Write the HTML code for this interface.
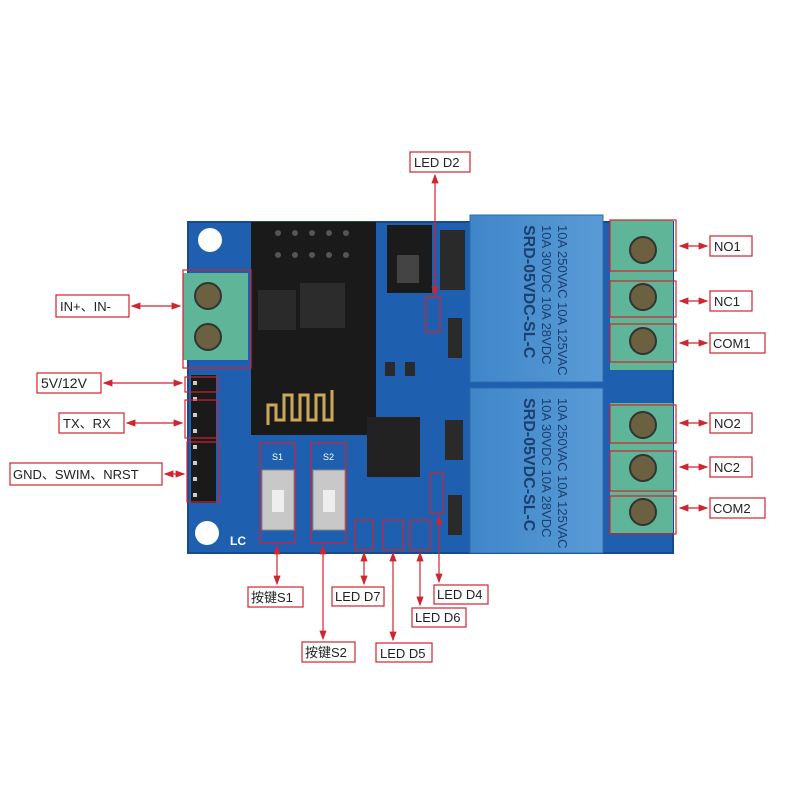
<!DOCTYPE html>
<html><head><meta charset="utf-8"><style>
html,body{margin:0;padding:0;background:#fff;width:800px;height:800px;overflow:hidden}
text{font-family:"Liberation Sans","Noto Sans CJK SC",sans-serif;font-size:13px;fill:#222}
</style></head><body>
<svg width="800" height="800" viewBox="0 0 800 800" xmlns="http://www.w3.org/2000/svg">
<defs>
<marker id="a" markerWidth="8" markerHeight="8" refX="7" refY="4" orient="auto-start-reverse"><path d="M0,1 L8,4 L0,7 z" fill="#d0242e"/></marker>
<linearGradient id="rel" x1="0" x2="1"><stop offset="0" stop-color="#3f86c9"/><stop offset="1" stop-color="#5a9bd6"/></linearGradient>
</defs>
<!-- board -->
<rect x="188" y="222" width="485" height="331" fill="#1e5fb0"/>
<rect x="188" y="222" width="485" height="331" fill="none" stroke="#164a8c" stroke-width="2"/>
<circle cx="210" cy="240" r="12" fill="#fff"/>
<circle cx="207" cy="533" r="12" fill="#fff"/>
<text x="230" y="545" style="fill:#fff;font-weight:bold;font-size:12px">LC</text>
<!-- small smd parts -->
<g fill="#2a2a2a"><rect x="385" y="362" width="10" height="14"/><rect x="405" y="362" width="10" height="14"/><rect x="448" y="318" width="14" height="40"/><rect x="448" y="495" width="14" height="40"/><rect x="445" y="420" width="18" height="40"/><rect x="440" y="230" width="25" height="60"/></g>
<!-- ESP module -->
<rect x="251" y="222" width="125" height="213" fill="#1a1a1a"/>
<rect x="300" y="283" width="45" height="45" fill="#2c2c2c"/>
<rect x="258" y="290" width="38" height="40" fill="#2a2a2a"/>
<path d="M268,425 v-20 h8 v15 h8 v-25 h8 v25 h8 v-25 h8 v25 h8 v-25 h8 v25 h8 v-30" fill="none" stroke="#c9a85a" stroke-width="3"/>
<g fill="#555"><circle cx="278" cy="233" r="3"/><circle cx="295" cy="233" r="3"/><circle cx="312" cy="233" r="3"/><circle cx="329" cy="233" r="3"/><circle cx="346" cy="233" r="3"/><circle cx="278" cy="255" r="3"/><circle cx="295" cy="255" r="3"/><circle cx="312" cy="255" r="3"/><circle cx="329" cy="255" r="3"/><circle cx="346" cy="255" r="3"/></g>
<!-- jumper -->
<rect x="387" y="225" width="45" height="68" fill="#1b1b1b"/>
<rect x="397" y="255" width="22" height="28" fill="#444"/>
<!-- IC -->
<rect x="367" y="417" width="53" height="60" fill="#222"/>
<!-- relays -->
<rect x="470" y="215" width="133" height="167" fill="url(#rel)" stroke="#2d6aa8"/>
<rect x="470" y="388" width="133" height="165" fill="url(#rel)" stroke="#2d6aa8"/>
<g transform="translate(558,225) rotate(90)"><text x="0" y="0" style="font-size:13px;fill:#1b3f6e">10A 250VAC 10A 125VAC</text><text x="0" y="16" style="font-size:13px;fill:#1b3f6e">10A 30VDC 10A 28VDC</text><text x="0" y="34" style="font-size:16px;fill:#1b3f6e;font-weight:bold">SRD-05VDC-SL-C</text></g>
<g transform="translate(558,398) rotate(90)"><text x="0" y="0" style="font-size:13px;fill:#1b3f6e">10A 250VAC 10A 125VAC</text><text x="0" y="16" style="font-size:13px;fill:#1b3f6e">10A 30VDC 10A 28VDC</text><text x="0" y="34" style="font-size:16px;fill:#1b3f6e;font-weight:bold">SRD-05VDC-SL-C</text></g>
<!-- terminals -->
<rect x="610" y="220" width="63" height="150" fill="#5fb598"/>
<rect x="610" y="403" width="63" height="130" fill="#5fb598"/>
<rect x="183" y="273" width="65" height="87" fill="#5fb598"/>
<g fill="#6b6040" stroke="#333" stroke-width="2">
<circle cx="643" cy="250" r="13"/><circle cx="643" cy="297" r="13"/><circle cx="643" cy="341" r="13"/>
<circle cx="643" cy="425" r="13"/><circle cx="643" cy="468" r="13"/><circle cx="643" cy="512" r="13"/>
<circle cx="208" cy="296" r="13"/><circle cx="208" cy="337" r="13"/></g>
<!-- headers -->
<rect x="191" y="375" width="25" height="128" fill="#1a1a1a"/>
<g fill="#ccc"><rect x="193" y="381" width="4" height="4"/><rect x="193" y="397" width="4" height="4"/><rect x="193" y="413" width="4" height="4"/><rect x="193" y="429" width="4" height="4"/><rect x="193" y="445" width="4" height="4"/><rect x="193" y="461" width="4" height="4"/><rect x="193" y="477" width="4" height="4"/><rect x="193" y="493" width="4" height="4"/></g>
<!-- buttons -->
<rect x="262" y="470" width="32" height="60" fill="#c8c8c8" stroke="#888"/>
<rect x="313" y="470" width="32" height="60" fill="#c8c8c8" stroke="#888"/>
<rect x="272" y="490" width="12" height="22" fill="#eee"/>
<rect x="323" y="490" width="12" height="22" fill="#eee"/>
<text x="272" y="460" style="fill:#fff;font-size:9px">S1</text><text x="323" y="460" style="fill:#fff;font-size:9px">S2</text>
<!-- red highlight boxes -->
<g fill="none" stroke="#d0242e" stroke-width="1.2">
<rect x="610" y="220" width="66" height="51"/><rect x="610" y="281" width="66" height="36"/><rect x="610" y="324" width="66" height="38"/>
<rect x="610" y="405" width="66" height="38"/><rect x="610" y="451" width="66" height="40"/><rect x="610" y="496" width="66" height="38"/>
<rect x="183" y="270" width="68" height="98"/>
<rect x="185" y="377" width="33" height="15"/><rect x="185" y="400" width="33" height="38"/><rect x="187" y="442" width="32" height="60"/>
<rect x="260" y="443" width="35" height="100"/><rect x="311" y="443" width="35" height="100"/>
<rect x="426" y="297" width="14" height="35"/>
<rect x="355" y="520" width="18" height="30"/><rect x="383" y="520" width="20" height="30"/><rect x="410" y="520" width="20" height="30"/><rect x="430" y="473" width="13" height="40"/>
</g>
<!-- labels -->
<g fill="#fff" stroke="#d0242e" stroke-width="1.2">
<rect x="410" y="152" width="60" height="20"/>
<rect x="710" y="236" width="42" height="20"/><rect x="710" y="291" width="42" height="20"/><rect x="710" y="333" width="55" height="20"/>
<rect x="710" y="413" width="42" height="20"/><rect x="710" y="457" width="42" height="20"/><rect x="710" y="498" width="55" height="20"/>
<rect x="56" y="295" width="73" height="22"/><rect x="37" y="373" width="64" height="20"/><rect x="59" y="413" width="65" height="20"/><rect x="10" y="463" width="152" height="22"/>
<rect x="248" y="587" width="55" height="20"/><rect x="332" y="587" width="52" height="19"/><rect x="434" y="585" width="54" height="19"/><rect x="412" y="608" width="54" height="19"/><rect x="302" y="642" width="53" height="20"/><rect x="376" y="643" width="56" height="19"/>
</g>
<text x="414" y="167">LED D2</text>
<text x="714" y="251">NO1</text><text x="714" y="306">NC1</text><text x="713" y="348">COM1</text>
<text x="714" y="428">NO2</text><text x="714" y="472">NC2</text><text x="713" y="513">COM2</text>
<text x="60" y="311">IN+、IN-</text><text x="41" y="388" style="font-size:14px">5V/12V</text><text x="63" y="428">TX、RX</text><text x="13" y="479">GND、SWIM、NRST</text>
<text x="251" y="602">按键S1</text><text x="335" y="601">LED D7</text><text x="437" y="599">LED D4</text><text x="415" y="622">LED D6</text><text x="305" y="657">按键S2</text><text x="380" y="658">LED D5</text>
<!-- arrows -->
<g stroke="#d0242e" stroke-width="1.2" marker-start="url(#a)" marker-end="url(#a)">
<line x1="435" y1="175" x2="435" y2="295"/>
<line x1="680" y1="246" x2="707" y2="246"/><line x1="680" y1="301" x2="707" y2="301"/><line x1="680" y1="343" x2="707" y2="343"/>
<line x1="680" y1="423" x2="707" y2="423"/><line x1="680" y1="467" x2="707" y2="467"/><line x1="680" y1="508" x2="707" y2="508"/>
<line x1="132" y1="306" x2="180" y2="306"/><line x1="104" y1="383" x2="182" y2="383"/><line x1="127" y1="423" x2="182" y2="423"/><line x1="165" y1="474" x2="184" y2="474"/>
<line x1="277" y1="546" x2="277" y2="584"/><line x1="323" y1="546" x2="323" y2="639"/><line x1="364" y1="553" x2="364" y2="584"/><line x1="393" y1="553" x2="393" y2="640"/><line x1="420" y1="553" x2="420" y2="605"/><line x1="439" y1="516" x2="439" y2="582"/>
</g>
</svg>
</body></html>
